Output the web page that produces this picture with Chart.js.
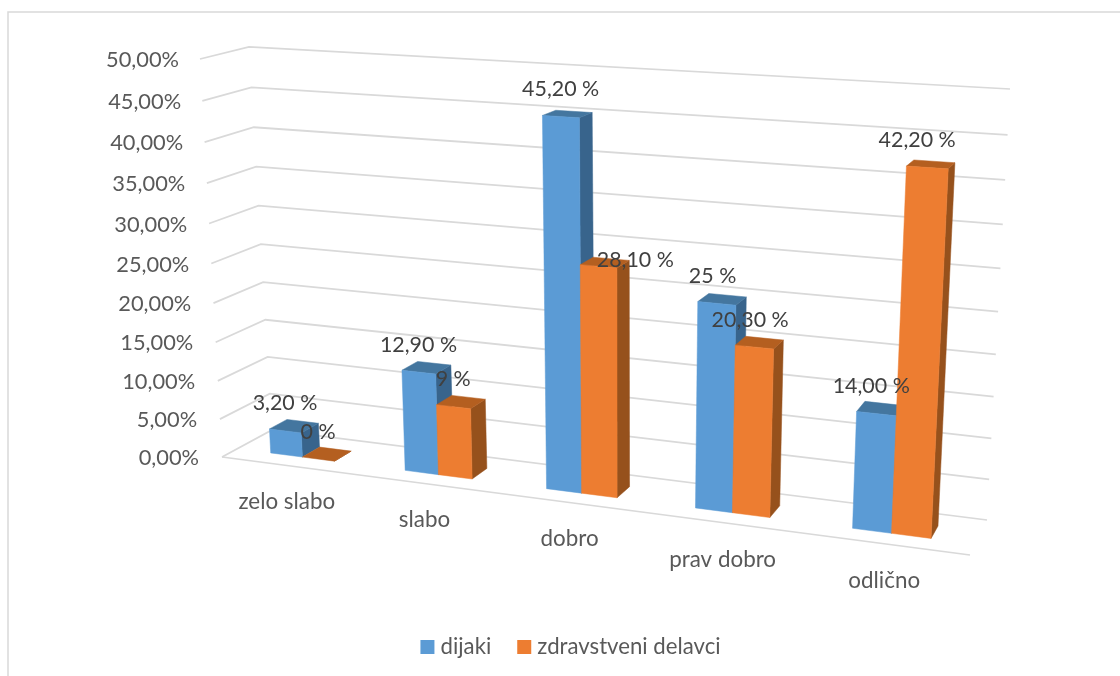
<!DOCTYPE html>
<html>
<head>
<meta charset="utf-8">
<style>
html, body { margin: 0; padding: 0; background: #fff; overflow: hidden; }
</style>
<script src="https://cdn.jsdelivr.net/npm/chart.js@4"></script>
</head>
<body>
<canvas id="myChart" width="1120" height="676"></canvas>
<script>
const categories = ['zelo slabo', 'slabo', 'dobro', 'prav dobro', 'odlično'];
const dijaki = [3.2, 12.9, 45.2, 25, 14];
const zdravstveni = [0, 9, 28.1, 20.3, 42.2];
const dijakiLabels = ['3,20 %', '12,90 %', '45,20 %', '25 %', '14,00 %'];
const zdravstveniLabels = ['0 %', '9 %', '28,10 %', '20,30 %', '42,20 %'];

const FONT = 'Lato, Carlito, sans-serif';
// colours: front, top, side
const BLUE = ['#5b9bd5', '#44769f', '#38648c'];
const ORANGE = ['#ed7d31', '#b45f20', '#96511c'];

// corners of the 3D box as seen in the picture: bottom left, bottom right, top right, top left
const frontWall = homography([222, 457], [970, 555], [994, 103], [200, 59]);
const backWall = homography([272, 430], [987, 520], [1010, 89], [249, 47]);
const BAR_DEPTH = [0.31, 0.67];
const BAR_NUDGE = -0.001;

// sideways shift of the value labels, they don't sit exactly over the bars in the original
const dijakiShift = [0, 0, 0, -4, -5];
const zdravstveniShift = [0, 0, 37, -4, -10];

function homography(p0, p1, p2, p3) {
    const dx1 = p1[0] - p2[0], dx2 = p3[0] - p2[0], sx = p0[0] - p1[0] + p2[0] - p3[0];
    const dy1 = p1[1] - p2[1], dy2 = p3[1] - p2[1], sy = p0[1] - p1[1] + p2[1] - p3[1];
    const det = dx1 * dy2 - dx2 * dy1;
    const g = (sx * dy2 - dx2 * sy) / det;
    const h = (dx1 * sy - sx * dy1) / det;
    const a = p1[0] - p0[0] + g * p1[0], b = p3[0] - p0[0] + h * p3[0];
    const d = p1[1] - p0[1] + g * p1[1], e = p3[1] - p0[1] + h * p3[1];
    return (u, v) => {
        const q = g * u + h * v + 1;
        return [(a * u + b * v + p0[0]) / q, (d * u + e * v + p0[1]) / q];
    };
}

// u along the categories, v up the value axis, w from front (0) to back (1)
function project(u, v, w) {
    const f = frontWall(u, v), b = backWall(u, v);
    return [f[0] + (b[0] - f[0]) * w, f[1] + (b[1] - f[1]) * w];
}

function face(ctx, color, pts) {
    ctx.fillStyle = color;
    ctx.strokeStyle = color;
    ctx.lineWidth = 0.5;
    ctx.beginPath();
    pts.forEach((p, i) => i ? ctx.lineTo(p[0], p[1]) : ctx.moveTo(p[0], p[1]));
    ctx.closePath();
    ctx.fill();
    ctx.stroke();
}

function polyline(ctx, pts) {
    ctx.beginPath();
    pts.forEach((p, i) => i ? ctx.lineTo(p[0], p[1]) : ctx.moveTo(p[0], p[1]));
    ctx.stroke();
}

function text(ctx, str, x, y, color, align) {
    ctx.fillStyle = color;
    ctx.textAlign = align || 'center';
    ctx.textBaseline = 'middle';
    ctx.fillText(str, x, y);
}

const box3d = {
    id: 'box3d',
    beforeDraw(chart) {
        const ctx = chart.ctx;
        ctx.save();
        ctx.strokeStyle = '#d9d9d9';
        ctx.lineWidth = 1.5;
        polyline(ctx, [[8, 676], [8, 12], [1120, 12]]);
        ctx.restore();
    },
    // bars are drawn here as 3D boxes, so the flat ones are cancelled
    beforeDatasetsDraw(chart) {
        const ctx = chart.ctx;
        const xs = chart.scales.x, ys = chart.scales.y;
        const toU = px => (px - xs.left) / xs.width;
        const toV = px => (ys.bottom - px) / ys.height;
        ctx.save();

        // walls and value labels
        ctx.font = '21.8px ' + FONT;
        ys.ticks.forEach(tick => {
            const v = toV(ys.getPixelForValue(tick.value));
            ctx.strokeStyle = '#d9d9d9';
            ctx.lineWidth = 1.75;
            polyline(ctx, [project(0, v, 0), project(0, v, 1), project(1, v, 1)]);
            const start = project(0, v, 0);
            text(ctx, tick.label, start[0] - 23 + 2 * v, start[1] + 1, '#595959', 'right');
        });
        polyline(ctx, [project(0, 0, 0), project(1, 0, 0)]);

        // category labels under the front edge of the floor
        ctx.font = '22.4px ' + FONT;
        categories.forEach((name, i) => {
            const p = project(toU(xs.getPixelForValue(i)), 0, 0);
            text(ctx, name, p[0] - 1.5, p[1] + 36.5, '#595959');
        });

        // bars, left to right, blue before orange
        const styles = [BLUE, ORANGE];
        const metas = [chart.getDatasetMeta(0), chart.getDatasetMeta(1)];
        categories.forEach((name, i) => {
            metas.forEach((meta, s) => {
                const bar = meta.data[i];
                const u0 = toU(bar.x - bar.width / 2) + BAR_NUDGE, u1 = toU(bar.x + bar.width / 2) + BAR_NUDGE;
                const v0 = toV(bar.base), v1 = toV(bar.y);
                const wf = BAR_DEPTH[0], wb = BAR_DEPTH[1];
                const c = styles[s];
                face(ctx, c[2], [project(u1, v0, wf), project(u1, v0, wb), project(u1, v1, wb), project(u1, v1, wf)]);
                face(ctx, c[1], [project(u0, v1, wf), project(u1, v1, wf), project(u1, v1, wb), project(u0, v1, wb)]);
                if (v1 > v0) {
                    face(ctx, c[0], [project(u0, v0, wf), project(u1, v0, wf), project(u1, v1, wf), project(u0, v1, wf)]);
                }
            });
        });

        // value labels stay on top of every bar
        ctx.font = '21.4px ' + FONT;
        metas.forEach((meta, s) => {
            const labels = s ? zdravstveniLabels : dijakiLabels;
            const shift = s ? zdravstveniShift : dijakiShift;
            meta.data.forEach((bar, i) => {
                const p = project(toU(bar.x), toV(bar.y), BAR_DEPTH[0]);
                // the 28,10 % label also sits lower, next to its bar
                const drop = labels[i] === '28,10 %' ? 21 : 0;
                text(ctx, labels[i], p[0] - 1 + shift[i], p[1] - 27.5 + drop, '#404040');
            });
        });
        ctx.restore();
        return false;
    }
};

new Chart(document.getElementById('myChart').getContext('2d'), {
    type: 'bar',
    data: {
        labels: categories,
        datasets: [{
            label: 'dijaki',
            data: dijaki,
            backgroundColor: BLUE[0],
            borderColor: BLUE[0],
            borderWidth: 10,
        }, {
            label: 'zdravstveni delavci',
            data: zdravstveni,
            backgroundColor: ORANGE[0],
            borderColor: ORANGE[0],
            borderWidth: 10,
        }]
    },
    options: {
        responsive: false,
        animation: false,
        events: [],
        layout: { padding: { left: 26, bottom: 8 } },
        datasets: { bar: { categoryPercentage: 0.48, barPercentage: 1 } },
        scales: {
            x: {
                grid: { display: false },
                border: { display: false },
                ticks: { display: false },
            },
            y: {
                min: 0,
                max: 50,
                grid: { display: false },
                border: { display: false },
                ticks: {
                    display: false,
                    stepSize: 5,
                    callback: value => value.toFixed(2).replace('.', ',') + '%',
                },
            }
        },
        plugins: {
            tooltip: { enabled: false },
            legend: {
                position: 'bottom',
                labels: {
                    // small box with a thick border: keeps the text close to the swatch
                    boxWidth: 4,
                    boxHeight: 4,
                    padding: 31,
                    color: '#595959',
                    font: { family: FONT, size: 22.2 },
                }
            }
        }
    },
    plugins: [box3d]
});
</script>
</body>
</html>
